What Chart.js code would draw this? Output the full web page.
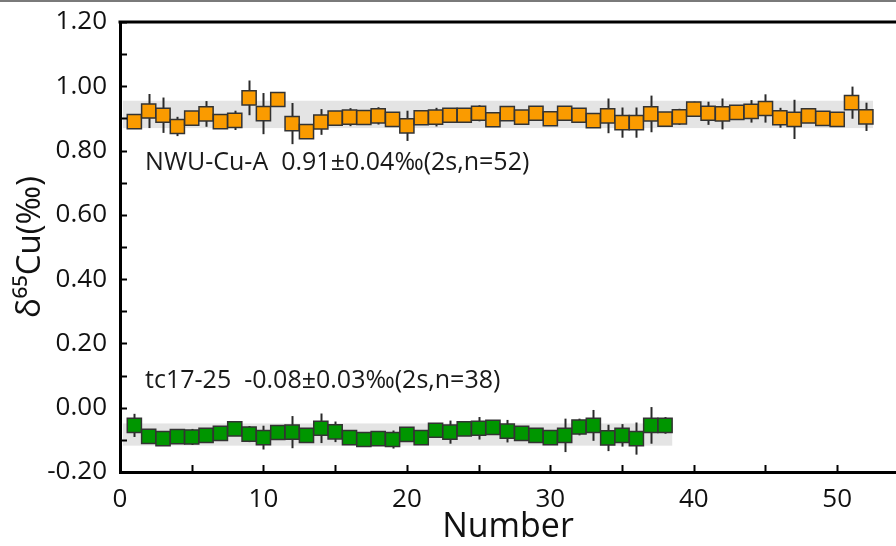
<!DOCTYPE html>
<html>
<head>
<meta charset="utf-8">
<script src="https://cdn.jsdelivr.net/npm/chart.js@4.4.0/dist/chart.umd.min.js"></script>
<style>
  html, body { margin: 0; padding: 0; background: #fff; }
  #wrap { width: 896px; height: 546px; }
</style>
</head>
<body>
<div id="wrap"><canvas id="canvas" width="896" height="546"></canvas></div>
<script>
// NWU-Cu-A, measurements 1..52
var nwuValues = [0.890, 0.923, 0.910, 0.875, 0.901, 0.914, 0.890, 0.894, 0.964, 0.915,
                 0.959, 0.884, 0.859, 0.889, 0.901, 0.904, 0.903, 0.908, 0.897, 0.877,
                 0.902, 0.904, 0.910, 0.910, 0.916, 0.896, 0.915, 0.904, 0.916, 0.899,
                 0.916, 0.910, 0.893, 0.908, 0.887, 0.887, 0.914, 0.898, 0.905, 0.929,
                 0.916, 0.914, 0.919, 0.922, 0.931, 0.902, 0.897, 0.908, 0.900, 0.897,
                 0.949, 0.905];
var nwuErrors = [0.015, 0.053, 0.055, 0.030, 0.020, 0.040, 0.020, 0.030, 0.054, 0.064,
                 0.020, 0.064, 0.020, 0.040, 0.020, 0.028, 0.020, 0.027, 0.020, 0.047,
                 0.020, 0.029, 0.020, 0.020, 0.025, 0.020, 0.020, 0.020, 0.020, 0.020,
                 0.020, 0.020, 0.020, 0.054, 0.047, 0.047, 0.057, 0.020, 0.025, 0.023,
                 0.036, 0.048, 0.020, 0.035, 0.044, 0.031, 0.061, 0.020, 0.020, 0.020,
                 0.050, 0.044];

// tc17-25, measurements 1..38
var tcValues = [-0.055, -0.089, -0.096, -0.090, -0.091, -0.086, -0.080, -0.066, -0.082, -0.093,
                -0.077, -0.076, -0.086, -0.064, -0.075, -0.093, -0.099, -0.096, -0.099, -0.083,
                -0.093, -0.070, -0.076, -0.066, -0.064, -0.061, -0.073, -0.080, -0.086, -0.093,
                -0.086, -0.060, -0.055, -0.094, -0.086, -0.096, -0.055, -0.055];
var tcErrors = [0.036, 0.020, 0.020, 0.020, 0.025, 0.020, 0.020, 0.020, 0.025, 0.037,
                0.020, 0.050, 0.020, 0.046, 0.032, 0.020, 0.020, 0.020, 0.028, 0.020,
                0.020, 0.020, 0.036, 0.020, 0.035, 0.020, 0.035, 0.020, 0.020, 0.020,
                0.052, 0.026, 0.048, 0.041, 0.035, 0.050, 0.057, 0.026];

// grey 2s bands: [low, high], [x start, x end]
var nwuBand = [0.87, 0.955];
var nwuBandX = [0.2, 52.5];
var tcBand = [-0.118, -0.049];
var tcBandX = [0.2, 38.5];

var nwuLabel = 'NWU-Cu-A  0.91\u00B10.04\u2030(2s,n=52)';
var tcLabel = 'tc17-25  -0.08\u00B10.03\u2030(2s,n=38)';

var xTitle = 'Number';
var yTitle = '\u03B4\u2076\u2075Cu(\u2030)';

var FONT = "'Open Sans', 'DejaVu Sans', sans-serif";

function toPoints(vals){
	var pts = [];
	for (var i = 0; i < vals.length; i++) pts.push({ x: i + 1, y: vals[i] });
	return pts;
}

var extras = {
	id: 'extras',
	beforeDatasetsDraw: function(chart){
		var ctx = chart.ctx, xs = chart.scales.x, ys = chart.scales.y;
		ctx.save();
		// bands
		ctx.fillStyle = '#e4e4e4';
		[[nwuBand, nwuBandX], [tcBand, tcBandX]].forEach(function(b){
			var x0 = xs.getPixelForValue(b[1][0]), x1 = xs.getPixelForValue(b[1][1]);
			var y0 = ys.getPixelForValue(b[0][1]), y1 = ys.getPixelForValue(b[0][0]);
			ctx.fillRect(x0, y0, x1 - x0, y1 - y0);
		});
		// error bars
		ctx.strokeStyle = '#2a2a2a';
		ctx.lineWidth = 2;
		[[nwuValues, nwuErrors], [tcValues, tcErrors]].forEach(function(s){
			for (var i = 0; i < s[0].length; i++) {
				var px = Math.round(xs.getPixelForValue(i + 1)) + 0.5;
				ctx.beginPath();
				ctx.moveTo(px, ys.getPixelForValue(s[0][i] + s[1][i]));
				ctx.lineTo(px, ys.getPixelForValue(s[0][i] - s[1][i]));
				ctx.stroke();
			}
		});
		// annotations
		ctx.fillStyle = '#1a1a1a';
		ctx.font = '25px ' + FONT;
		ctx.textBaseline = 'middle';
		ctx.textAlign = 'left';
		ctx.fillText(nwuLabel, xs.getPixelForValue(1.75), ys.getPixelForValue(0.761));
		ctx.fillText(tcLabel, xs.getPixelForValue(1.75), ys.getPixelForValue(0.083));
		ctx.restore();
	},
	afterDraw: function(chart){
		var ctx = chart.ctx, xs = chart.scales.x, ys = chart.scales.y, a = chart.chartArea;
		ctx.save();
		ctx.strokeStyle = '#000';
		ctx.lineWidth = 2;
		// inward minor ticks on y
		for (var v = -0.2; v <= 1.2001; v += 0.1) {
			var py = Math.round(ys.getPixelForValue(v)) + 0.5;
			ctx.beginPath();
			ctx.moveTo(a.left, py);
			ctx.lineTo(a.left + 7, py);
			ctx.stroke();
		}
		// inward ticks on x
		for (var t = 5; t <= 50; t += 5) {
			var px = Math.round(xs.getPixelForValue(t)) + 0.5;
			ctx.beginPath();
			ctx.moveTo(px, a.bottom);
			ctx.lineTo(px, a.bottom - 7);
			ctx.stroke();
		}
		// top frame line
		ctx.lineWidth = 3;
		ctx.beginPath();
		ctx.moveTo(a.left - 1.5, a.top);
		ctx.lineTo(chart.width, a.top);
		ctx.stroke();
		// thin grey line at the top edge of the picture
		ctx.strokeStyle = '#7a7a7a';
		ctx.lineWidth = 2;
		ctx.beginPath();
		ctx.moveTo(0, 1);
		ctx.lineTo(chart.width, 1);
		ctx.stroke();
		ctx.restore();
	}
};

var canvas = document.getElementById('canvas');
var chart = new Chart(canvas, {
	type: 'scatter',
	data: {
		datasets: [{
			label: 'NWU-Cu-A',
			data: toPoints(nwuValues),
			pointStyle: 'rect',
			pointRadius: 10,
			pointHoverRadius: 10,
			backgroundColor: 'rgb(250,155,0)',
			borderColor: '#333',
			borderWidth: 1.5
		}, {
			label: 'tc17-25',
			data: toPoints(tcValues),
			pointStyle: 'rect',
			pointRadius: 10,
			pointHoverRadius: 10,
			backgroundColor: 'rgb(0,150,0)',
			borderColor: '#333',
			borderWidth: 1.5
		}]
	},
	options: {
		responsive: false,
		animation: false,
		devicePixelRatio: 1,
		layout: { autoPadding: false, padding: { top: 22, right: 0, left: 0, bottom: 0 } },
		plugins: { legend: { display: false }, tooltip: { enabled: false } },
		scales: {
			x: {
				type: 'linear',
				min: 0,
				max: 54.1,
				afterFit: function(s){ s.height = 74; },
				grid: { display: false },
				border: { display: true, color: '#000', width: 3 },
				ticks: {
					stepSize: 5,
					includeBounds: false,
					autoSkip: false,
					maxRotation: 0,
					padding: 4,
					color: '#111',
					font: { family: FONT, size: 26 },
					callback: function(v){ return v % 10 === 0 ? String(v) : ''; }
				},
				title: {
					display: true,
					text: xTitle,
					color: '#111',
					font: { family: FONT, size: 34 },
					padding: { top: 0, bottom: -2 }
				}
			},
			y: {
				min: -0.2,
				max: 1.2,
				afterFit: function(s){ s.width = 120; },
				grid: { display: false },
				border: { display: true, color: '#000', width: 3 },
				ticks: {
					stepSize: 0.2,
					padding: 5,
					color: '#111',
					font: { family: FONT, size: 26 },
					callback: function(v){ return (Math.round(v * 100) / 100).toFixed(2); }
				},
				title: {
					display: true,
					text: yTitle,
					color: '#111',
					font: { family: FONT, size: 33 },
					padding: { top: 11, bottom: 0 }
				}
			}
		}
	},
	plugins: [extras]
});
</script>
</body>
</html>
